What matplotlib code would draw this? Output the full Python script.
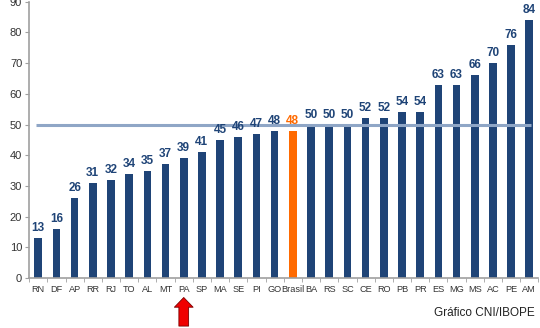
import matplotlib
matplotlib.use('Agg')
import matplotlib.pyplot as plt
import numpy as np

# Dados
estados = ['RN', 'DF', 'AP', 'RR', 'RJ', 'TO', 'AL', 'MT', 'PA', 'SP', 'MA', 'SE', 'PI', 'GO',
           'Brasil', 'BA', 'RS', 'SC', 'CE', 'RO', 'PB', 'PR', 'ES', 'MG', 'MS', 'AC', 'PE', 'AM']
valores = [13, 16, 26, 31, 32, 34, 35, 37, 39, 41, 45, 46, 47, 48,
           48, 50, 50, 50, 52, 52, 54, 54, 63, 63, 66, 70, 76, 84]
referencia = 50
destaque = 'PA'

AZUL = '#1F4477'
LARANJA = '#FF6A00'
LINHA = '#8FA6C6'
CINZA = '#A0A0A0'
FONTE = 'Liberation Sans'

fig = plt.figure(figsize=(5.4, 3.28), dpi=100)
ax = fig.add_axes([0.054, 0.152, 0.943, 0.843])

x = np.arange(len(estados))
cores = [LARANJA if e == 'Brasil' else AZUL for e in estados]
ax.bar(x, valores, width=0.42, color=cores, zorder=2)
ax.plot([x[0] - 0.1, x[-1] + 0.1], [referencia, referencia], color=LINHA, lw=2.2, zorder=3,
        solid_capstyle='butt')

for xi, v, c in zip(x, valores, cores):
    ax.text(xi, v + 1.3, str(v), ha='center', va='bottom', fontsize=8.5, fontweight='bold',
            color=c, family=FONTE, zorder=4)

ax.set_xlim(-0.5, len(estados) - 0.5)
ax.set_ylim(0, 90)
ax.set_yticks(range(0, 91, 10))
ax.set_xticks(x)
ax.set_xticklabels(estados, fontsize=6.6, family=FONTE, color='#333333')
ax.set_xticks(np.arange(-0.5, len(estados), 1), minor=True)
ax.tick_params(axis='x', which='major', length=0, pad=5)
ax.tick_params(axis='x', which='minor', length=3, color=CINZA)
ax.tick_params(axis='y', length=3, color=CINZA, labelsize=8, pad=2, labelcolor='#333333')
for lab in ax.get_yticklabels():
    lab.set_family(FONTE)

for s in ['top', 'right']:
    ax.spines[s].set_visible(False)
for s in ['left', 'bottom']:
    ax.spines[s].set_color(CINZA)
    ax.spines[s].set_linewidth(1.2)

# seta vermelha sob PA
i = estados.index(destaque)
ax.annotate('', xy=(i, -6.3), xytext=(i, -15.6), xycoords='data', textcoords='data',
            annotation_clip=False,
            arrowprops=dict(facecolor='#F00000', edgecolor='#7A0000', lw=0.6,
                            width=7, headwidth=13.5, headlength=7))

fig.text(0.99, 0.045, 'Gráfico CNI/IBOPE', ha='right', va='center', fontsize=8.5,
         family=FONTE, color='#222222')

fig.savefig('out.png', dpi=100)
